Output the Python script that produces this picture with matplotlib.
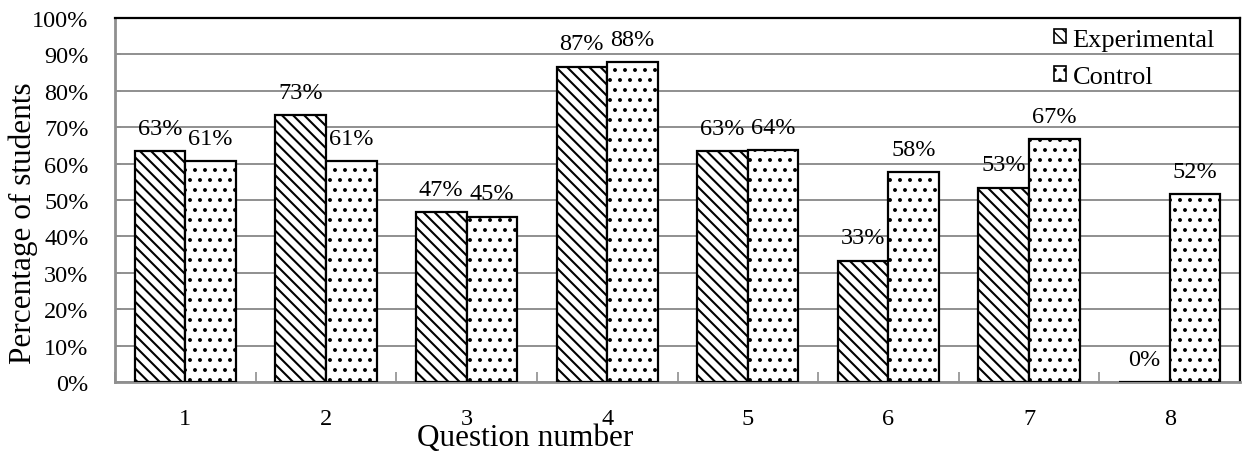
import matplotlib
matplotlib.use("Agg")
import matplotlib.pyplot as plt
import matplotlib.hatch as mhatch
import numpy as np
from matplotlib.ticker import MultipleLocator, FuncFormatter, FixedLocator

# Share of students answering each question correctly (%)
questions = ["1", "2", "3", "4", "5", "6", "7", "8"]
experimental = [63.33, 73.33, 46.67, 86.67, 63.33, 33.33, 53.33, 0.0]
control = [60.61, 60.61, 45.45, 87.88, 63.64, 57.58, 66.67, 51.52]
series_names = ["Experimental", "Control"]


# Dot fill a little sparser than matplotlib's default '..' spacing
# (the staggered grid needs an even number of rows)
class _DotFill(mhatch.Circles):
    size = 0.11
    filled = True

    def __init__(self, hatch, density):
        self.num_rows = 2 * int(round(hatch.count('.') * density * 0.4))
        super().__init__(hatch, density)


mhatch._hatch_types = [_DotFill if t is mhatch.SmallFilledCircles else t
                       for t in mhatch._hatch_types]

plt.rcParams["font.family"] = ["Liberation Serif", "DejaVu Serif"]
plt.rcParams["hatch.color"] = "black"

FS_TICK = 17.5
FS_LEG = 19
FS_TITLE = 22.5
GRID = "#8f8f8f"

fig = plt.figure(figsize=(12.42, 4.52), dpi=100)
ax = fig.add_axes([115 / 1242, 1 - 383 / 452, (1240 - 115) / 1242, (383 - 19) / 452])

x = np.arange(1, len(questions) + 1)
w = 0.36

with plt.rc_context({"hatch.linewidth": 1.5}):
    bars_e = ax.bar(x - w / 2, experimental, w, facecolor="white", edgecolor="black",
                    linewidth=1.6, hatch="\\\\\\", label=series_names[0], zorder=3)
with plt.rc_context({"hatch.linewidth": 1.2}):
    bars_c = ax.bar(x + w / 2, control, w, facecolor="white", edgecolor="black",
                    linewidth=1.6, hatch="..", label=series_names[1], zorder=3)

for bars, hlw in ((bars_e, 1.5), (bars_c, 1.2)):
    for b in bars:
        if hasattr(b, "set_hatch_linewidth"):
            b.set_hatch_linewidth(hlw)

for bars, vals in ((bars_e, experimental), (bars_c, control)):
    for b, v in zip(bars, vals):
        ax.text(b.get_x() + b.get_width() / 2, v + 4.8, f"{v:.0f}%",
                ha="center", va="baseline", fontsize=FS_TICK, zorder=4)

ax.set_xlim(0.5, len(questions) + 0.5)
ax.set_ylim(0, 100)

# y axis: percent ticks every 10 with gridlines
ax.yaxis.set_major_locator(MultipleLocator(10))
ax.yaxis.set_major_formatter(FuncFormatter(lambda v, p: f"{v:.0f}%"))
ax.grid(axis="y", color=GRID, linewidth=1.4, zorder=0)
ax.tick_params(axis="y", direction="in", length=4, width=1.2, color=GRID,
               labelsize=FS_TICK, pad=19)

# x axis: category labels centred, tick marks between categories
ax.xaxis.set_major_locator(FixedLocator(np.arange(0.5, len(questions) + 1, 1.0)))
ax.xaxis.set_major_formatter(FuncFormatter(lambda v, p: ""))
ax.xaxis.set_minor_locator(FixedLocator(x))
ax.set_xticklabels(questions, minor=True)
ax.tick_params(axis="x", which="major", direction="in", length=7, width=1.2, color=GRID)
ax.tick_params(axis="x", which="minor", length=0, labelsize=FS_TICK, pad=19)

ax.set_xlabel("Question number", fontsize=FS_TITLE)
ax.xaxis.set_label_coords(0.365, -0.113)
ax.set_ylabel("Percentage of students", fontsize=FS_TITLE)
ax.yaxis.set_label_coords(-0.068, 0.44)

for side in ("left", "bottom"):
    ax.spines[side].set_color(GRID)
    ax.spines[side].set_linewidth(2.0)
for side in ("top", "right"):
    ax.spines[side].set_color("black")
    ax.spines[side].set_linewidth(1.6)

leg = ax.legend(loc="upper right", bbox_to_anchor=(0.987, 1.0), borderaxespad=0,
                frameon=False, fontsize=FS_LEG, handlelength=0.45, handleheight=0.45,
                handletextpad=0.25, labelspacing=0.58)
for h in leg.legend_handles:
    h.set_linewidth(1.2)

fig.savefig("out.png", dpi=100)
